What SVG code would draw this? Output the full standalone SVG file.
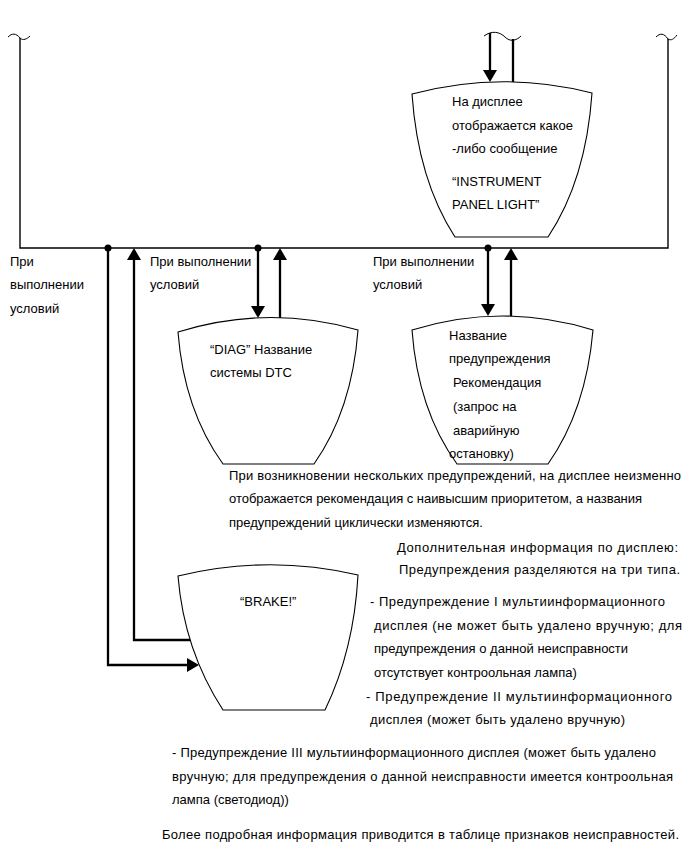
<svg xmlns="http://www.w3.org/2000/svg" width="691" height="855" viewBox="0 0 691 855">
<style>
text{font-family:"Liberation Sans",Arial,sans-serif;font-size:13px;fill:#000}
.shape{fill:#fff;stroke:#000;stroke-width:1.1}
.frame{fill:none;stroke:#000;stroke-width:1.4}
.wave{fill:none;stroke:#000;stroke-width:1}
.conn{fill:none;stroke:#000;stroke-width:2.3}
</style>
<defs>
<marker id="ah" markerUnits="userSpaceOnUse" markerWidth="14" markerHeight="14" refX="2" refY="7" orient="auto" viewBox="0 0 12 14">
<path d="M0,0 L12,7 L0,14 Z" fill="#000"/>
</marker>
</defs>
<g id="frame">
<path class="wave" d="M8,37 C12,33 16,33 20,38 C23,41 27,39 30,36"/>
<path class="wave" d="M656,37 C660,33 664,33 668,39 C671,41 674,39 677,35"/>
<path class="wave" d="M484,36 C492,30 500,32 505,37 C510,42 516,41 521,36"/>
<path class="frame" d="M20,38 V248 H668 V39"/>
</g>
<g id="connectors">
<circle cx="108" cy="248" r="3.5"/>
<circle cx="258" cy="248" r="3.5"/>
<circle cx="488" cy="248" r="3.5"/>
<path class="conn" d="M108,248 V665 H189" marker-end="url(#ah)"/>
<path class="conn" d="M190,640 H134 V258" marker-end="url(#ah)"/>
<path class="conn" d="M258,248 V308" marker-end="url(#ah)"/>
<path class="conn" d="M280,319 V258" marker-end="url(#ah)"/>
<path class="conn" d="M488,248 V306" marker-end="url(#ah)"/>
<path class="conn" d="M511,317 V258" marker-end="url(#ah)"/>
<path class="conn" d="M490,33 V72" marker-end="url(#ah)"/>
<path class="conn" d="M513,39 V83"/>
</g>
<g id="node-top">
<path class="shape" d="M412,94 Q502,70 592,93 Q586,180 548,237 L455,237 Q418,180 412,94 Z"/>
<text x="452" y="106">На дисплее</text>
<text x="452" y="130">отображается какое</text>
<text x="452" y="153">-либо сообщение</text>
<text x="452" y="186">“INSTRUMENT</text>
<text x="452" y="209">PANEL LIGHT”</text>
</g>
<g id="node-diag">
<path class="shape" d="M178,332 Q268,304 358,330 Q352,410 314,464 L223,464 Q184,410 178,332 Z"/>
<text x="210" y="354">“DIAG” Название</text>
<text x="210" y="377">системы DTC</text>
</g>
<g id="node-warning">
<path class="shape" d="M412,330 Q502,302 593,330 Q586,410 548,464 L457,464 Q418,410 412,330 Z"/>
<text x="449" y="340">Название</text>
<text x="449" y="363">предупреждения</text>
<text x="453" y="387">Рекомендация</text>
<text x="453" y="411">(запрос на</text>
<text x="453" y="435">аварийную</text>
<text x="449" y="458">остановку)</text>
</g>
<g id="node-brake">
<path class="shape" d="M178,576 Q268,554 358,575 Q354,650 325,710 L223,710 Q184,650 178,576 Z"/>
<text x="240" y="606">“BRAKE!”</text>
</g>
<g id="labels">
<text x="10" y="266">При</text>
<text x="10" y="289">выполнении</text>
<text x="10" y="313">условий</text>
<text x="150" y="266">При выполнении</text>
<text x="150" y="289">условий</text>
<text x="373" y="266">При выполнении</text>
<text x="373" y="289">условий</text>
<text x="229" y="480" textLength="452">При возникновении нескольких предупреждений, на дисплее неизменно</text>
<text x="229" y="503" textLength="413">отображается рекомендация с наивысшим приоритетом, а названия</text>
<text x="229" y="527">предупреждений циклически изменяются.</text>
<text x="397" y="552" textLength="281">Дополнительная информация по дисплею:</text>
<text x="399" y="574" textLength="281">Предупреждения разделяются на три типа.</text>
<text x="370" y="606" textLength="295">- Предупреждение I мультиинформационного</text>
<text x="374" y="630" textLength="308">дисплея (не может быть удалено вручную; для</text>
<text x="374" y="653">предупреждения о данной неисправности</text>
<text x="374" y="677">отсутствует контроольная лампа)</text>
<text x="366" y="701" textLength="306">- Предупреждение II мультиинформационного</text>
<text x="370" y="724" textLength="255">дисплея (может быть удалено вручную)</text>
<text x="172" y="757" textLength="484">- Предупреждение III мультиинформационного дисплея (может быть удалено</text>
<text x="172" y="781" textLength="501">вручную; для предупреждения о данной неисправности имеется контроольная</text>
<text x="172" y="804">лампа (светодиод))</text>
<text x="162" y="839" textLength="517">Более подробная информация приводится в таблице признаков неисправностей.</text>
</g>
</svg>
